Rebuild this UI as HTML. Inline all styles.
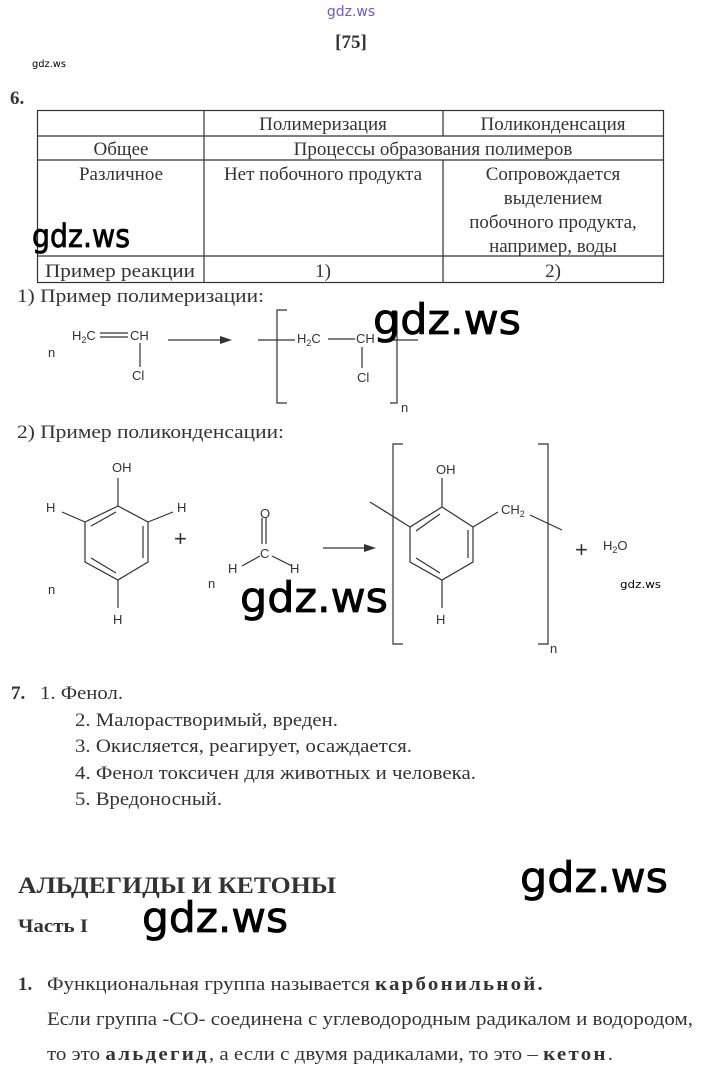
<!DOCTYPE html>
<html><head><meta charset="utf-8"><style>
html,body{margin:0;padding:0;background:#fff;}
svg{display:block}
.s{font-family:"Liberation Serif",serif;font-size:19px;fill:#333}
.c{font-family:"Liberation Sans",sans-serif;font-size:13px;fill:#333}
.w{font-family:"DejaVu Sans",sans-serif;fill:#000;stroke:#000;stroke-width:0.8}
</style></head><body>
<svg width="701" height="1074" viewBox="0 0 701 1074" xmlns="http://www.w3.org/2000/svg">
<text x="351" y="16" text-anchor="middle" font-family="DejaVu Sans,sans-serif" font-size="14" fill="#6a5acd">gdz.ws</text>
<text x="351" y="48" text-anchor="middle" class="s" style="font-weight:bold;font-size:19px">[75]</text>
<text x="32" y="67" class="w" font-size="10" style="stroke:none" textLength="34" lengthAdjust="spacingAndGlyphs">gdz.ws</text>
<text x="10" y="104" class="s" style="font-weight:bold">6.</text>
<g stroke="#333" stroke-width="1.2" fill="none">
<rect x="37.5" y="110.5" width="626" height="172"/>
<line x1="37" y1="136" x2="663" y2="136"/><line x1="37" y1="160" x2="663" y2="160"/><line x1="37" y1="256" x2="663" y2="256"/>
<line x1="204" y1="110" x2="204" y2="283"/><line x1="443" y1="110" x2="443" y2="136"/><line x1="443" y1="160" x2="443" y2="283"/>
</g>
<g class="s" text-anchor="middle">
<text x="323" y="130">Полимеризация</text><text x="553" y="130">Поликонденсация</text>
<text x="121" y="155">Общее</text><text x="433" y="155">Процессы образования полимеров</text>
<text x="121" y="180">Различное</text><text x="323" y="180">Нет побочного продукта</text>
<text x="553" y="180">Сопровождается</text><text x="553" y="204">выделением</text><text x="553" y="228">побочного продукта,</text><text x="553" y="252">например, воды</text>
<text x="323" y="277">1)</text><text x="553" y="277">2)</text>
</g>
<text x="45" y="277" class="s" textLength="150" lengthAdjust="spacingAndGlyphs">Пример реакции</text>
<text x="32" y="247" class="w" font-size="32" textLength="98" lengthAdjust="spacingAndGlyphs">gdz.ws</text>
<text x="17" y="302" class="s" textLength="247" lengthAdjust="spacingAndGlyphs">1)  Пример полимеризации:</text>
<g class="c">
<text x="48" y="357">n</text>
<text x="72" y="340">H<tspan font-size="9" dy="3">2</tspan><tspan dy="-3">C</tspan></text>
<text x="130" y="340">CH</text><text x="132" y="380">Cl</text>
<text x="297" y="343">H<tspan font-size="9" dy="3">2</tspan><tspan dy="-3">C</tspan></text>
<text x="356" y="343">CH</text><text x="357" y="382">Cl</text>
<text x="401" y="412">n</text>
</g>
<g stroke="#333" stroke-width="1.2" fill="none">
<line x1="100" y1="333" x2="128" y2="333"/><line x1="100" y1="337" x2="128" y2="337"/>
<line x1="140" y1="343" x2="140" y2="367"/>
<line x1="168" y1="340" x2="222" y2="340"/>
<line x1="258" y1="340" x2="295" y2="340"/>
<path d="M287 310 H277 V403 H287"/>
<line x1="328" y1="339" x2="355" y2="339"/>
<line x1="362" y1="347" x2="362" y2="368"/>
<path d="M390 312 H397 V403 H390"/>
<line x1="380" y1="340" x2="418" y2="340"/>
</g>
<path d="M232 340 L220 336 L220 344Z" fill="#333"/>
<text x="373" y="334" class="w" font-size="42" textLength="148" lengthAdjust="spacingAndGlyphs">gdz.ws</text>
<text x="17" y="438" class="s" textLength="267" lengthAdjust="spacingAndGlyphs">2)  Пример поликонденсации:</text>
<g stroke="#333" stroke-width="1.2" fill="none">
<polygon points="118,506 148,522 148,562 118,580 85,562 85,522"/>
<line x1="91" y1="526" x2="116" y2="512"/><line x1="143" y1="526" x2="143" y2="558"/><line x1="91" y1="558" x2="116" y2="573"/>
<line x1="118" y1="506" x2="118" y2="478"/>
<line x1="85" y1="522" x2="62" y2="512"/><line x1="148" y1="522" x2="173" y2="512"/>
<line x1="118" y1="580" x2="118" y2="608"/>
<line x1="266" y1="518" x2="266" y2="544"/><line x1="262" y1="518" x2="262" y2="544"/>
<line x1="260" y1="556" x2="242" y2="566"/><line x1="272" y1="556" x2="292" y2="566"/>
<line x1="323" y1="548" x2="368" y2="548"/>
<path d="M403 444 H393 V644 H403"/>
<path d="M538 444 H548 V644 H538"/>
<polygon points="442,507 473,527 473,562 442,580 410,562 410,527"/>
<line x1="416" y1="531" x2="440" y2="514"/><line x1="468" y1="530" x2="468" y2="558"/><line x1="416" y1="558" x2="440" y2="573"/>
<line x1="442" y1="507" x2="442" y2="478"/>
<line x1="410" y1="527" x2="370" y2="502"/>
<line x1="473" y1="527" x2="498" y2="512"/>
<line x1="530" y1="515" x2="562" y2="530"/>
<line x1="442" y1="580" x2="442" y2="608"/>
</g>
<path d="M376 548 L364 544 L364 552Z" fill="#333"/>
<g class="c">
<text x="112" y="472">OH</text>
<text x="46" y="512">H</text><text x="177" y="512">H</text>
<text x="113" y="624">H</text><text x="48" y="594">n</text>
<text x="260" y="518">O</text><text x="260" y="558">C</text>
<text x="228" y="573">H</text><text x="290" y="573">H</text><text x="208" y="588">n</text>
<text x="436" y="474">OH</text>
<text x="501" y="514">CH<tspan font-size="9" dy="3">2</tspan></text>
<text x="436" y="624">H</text>
<text x="550" y="653">n</text>
<text x="603" y="550">H<tspan font-size="9" dy="3">2</tspan><tspan dy="-3">O</tspan></text>
</g>
<text x="174" y="546" font-family="Liberation Sans,sans-serif" font-size="22" fill="#333">+</text>
<text x="575" y="557" font-family="Liberation Sans,sans-serif" font-size="22" fill="#333">+</text>
<text x="620" y="588" class="w" font-size="11" style="stroke:none" textLength="41" lengthAdjust="spacingAndGlyphs">gdz.ws</text>
<text x="240" y="612" class="w" font-size="42" textLength="148" lengthAdjust="spacingAndGlyphs">gdz.ws</text>
<text x="11" y="699" class="s" style="font-weight:bold">7.</text>
<text x="40" y="699" class="s" textLength="83" lengthAdjust="spacingAndGlyphs">1. Фенол.</text>
<text x="75" y="726" class="s" textLength="263" lengthAdjust="spacingAndGlyphs">2. Малорастворимый, вреден.</text>
<text x="75" y="752" class="s" textLength="337" lengthAdjust="spacingAndGlyphs">3. Окисляется, реагирует, осаждается.</text>
<text x="75" y="779" class="s" textLength="401" lengthAdjust="spacingAndGlyphs">4. Фенол токсичен для животных и человека.</text>
<text x="75" y="805" class="s" textLength="147" lengthAdjust="spacingAndGlyphs">5. Вредоносный.</text>
<text x="18" y="893" class="s" style="font-weight:bold;font-size:23px" textLength="318" lengthAdjust="spacingAndGlyphs">АЛЬДЕГИДЫ И КЕТОНЫ</text>
<text x="520" y="892" class="w" font-size="42" textLength="148" lengthAdjust="spacingAndGlyphs">gdz.ws</text>
<text x="18" y="932" class="s" style="font-weight:bold" textLength="70" lengthAdjust="spacingAndGlyphs">Часть I</text>
<text x="142" y="932" class="w" font-size="42" textLength="146" lengthAdjust="spacingAndGlyphs">gdz.ws</text>
<text x="18" y="990" class="s" style="font-weight:bold">1.</text>
<text x="47" y="990" class="s" textLength="498" lengthAdjust="spacingAndGlyphs">Функциональная группа называется <tspan font-weight="bold" letter-spacing="2">карбонильной.</tspan></text>
<text x="47" y="1025" class="s" textLength="646" lengthAdjust="spacingAndGlyphs">Если группа -СО- соединена с углеводородным радикалом и водородом,</text>
<text x="47" y="1060" class="s" textLength="566" lengthAdjust="spacingAndGlyphs">то это <tspan font-weight="bold" letter-spacing="2">альдегид</tspan>, а если с двумя радикалами, то это – <tspan font-weight="bold" letter-spacing="2">кетон</tspan>.</text>
</svg>
</body></html>
